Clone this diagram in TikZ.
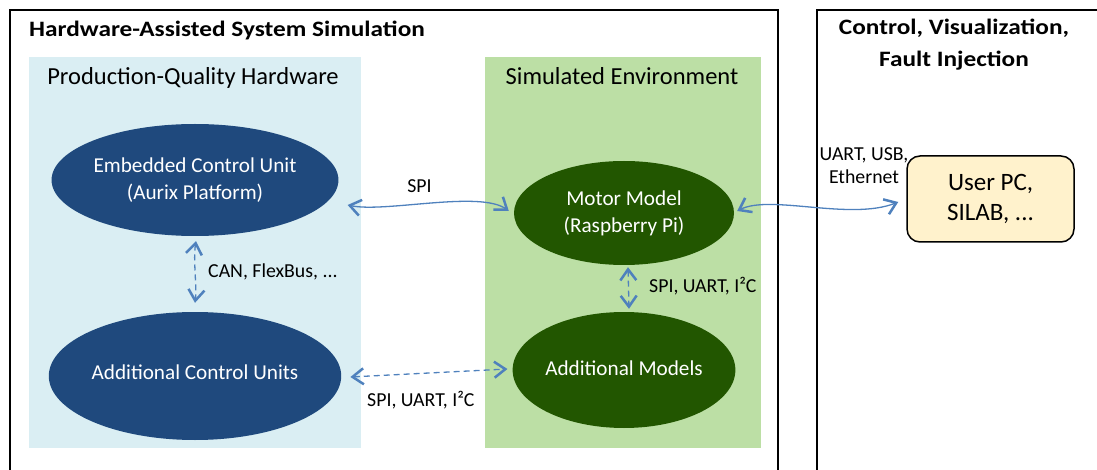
\documentclass[tikz,border=0pt]{standalone}
\usepackage{fontspec}
\setmainfont{Carlito}
\newfontfamily\titlefont[FakeStretch=1.15]{Carlito Bold}
\usetikzlibrary{shapes.geometric,arrows.meta,calc}
\definecolor{darkblue}{RGB}{31,73,125}
\definecolor{darkgreen}{RGB}{34,86,0}
\definecolor{lightblue}{RGB}{218,238,243}
\definecolor{lightgreen}{RGB}{188,223,165}
\definecolor{pcyellow}{RGB}{255,242,204}
\definecolor{arrowblue}{RGB}{79,129,189}
\tikzset{
  panel/.style={draw=black,line width=2pt},
  ellbase/.style={ellipse,draw=none,inner sep=0pt,text=white,align=center,font=\fontsize{21.2}{27}\selectfont},
  blueell/.style={ellbase,fill=darkblue},
  greenell/.style={ellbase,fill=darkgreen},
  conn/.style={draw=arrowblue,line width=1.3pt,{Straight Barb[length=11pt,width=16pt,line width=2.5pt]}-{Straight Barb[length=11pt,width=16pt,line width=2.5pt]}},
  dconn/.style={conn,dash pattern=on 6pt off 4pt},
  lbl/.style={font=\fontsize{19.8}{23}\selectfont,inner sep=0pt,align=center},
  areatitle/.style={font=\fontsize{24.5}{28}\selectfont,inner sep=0pt},
  paneltitle/.style={font=\titlefont\fontsize{22}{32}\selectfont,inner sep=0pt,align=center}
}
\begin{document}
\begin{tikzpicture}[x=1pt,y=-1pt]
\useasboundingbox (0,0) rectangle (1097,470);
\clip (0,0) rectangle (1097,470);
% panels
\draw[panel] (10,10) rectangle (778,490);
\draw[panel] (817,10) rectangle (1110,490);
\node[paneltitle,anchor=base west] (t1) at (29,37) {Hardware-Assisted System Simulation};
\node[paneltitle] (t2) at (954,45) {Control, Visualization,\\Fault Injection};
% areas
\fill[lightblue] (29,57) rectangle (361,448);
\fill[lightgreen] (485,57) rectangle (761,448);
\node[areatitle,anchor=base] (a1) at (193,85) {Production-Quality Hardware};
\node[areatitle,anchor=base] (a2) at (622,85) {Simulated Environment};
% nodes
\node[blueell,minimum width=276pt,minimum height=112pt] (ecu) at (195,180) {Embedded Control Unit\\(Aurix Platform)};
\node[blueell,minimum width=276pt,minimum height=128pt] (acu) at (195,376) {\raisebox{7pt}{Additional Control Units}};
\node[greenell,minimum width=220pt,minimum height=104pt] (motor) at (624,213) {Motor Model\\(Raspberry Pi)};
\node[greenell,minimum width=220pt,minimum height=116pt] (addm) at (624,370) {\raisebox{4pt}{Additional Models}};
\node[draw=black,line width=1.5pt,fill=pcyellow,rounded corners=13pt,minimum width=167pt,minimum height=86pt,align=center,font=\fontsize{25}{30}\selectfont] (pc) at (990.5,199) {User PC,\\SILAB, ...};
% connectors
\draw[conn] ($(ecu.east)+(9,25)$) .. controls (385,213) and (480,190) .. ($(motor.west)+(-5,-2)$);
\draw[conn] ($(motor.east)+(3,-2)$) .. controls (770,194) and (850,221) .. ($(pc.west)+(-8,3)$);
\draw[dconn] ($(ecu.south)+(1,5)$) .. controls (193,260) and (197,285) .. ($(acu.north)+(0,-9)$);
\draw[dconn] ($(motor.south)+(4,2)$) -- ($(addm.north)+(5,-3)$);
\draw[dconn] ($(acu.east)+(9,1)$) -- ($(addm.west)+(-5,-1)$);
% labels
\node[lbl] (l1) at (419.5,186) {SPI};
\node[lbl,anchor=west] (l2) at (208,272) {CAN, FlexBus, ...};
\node[lbl,anchor=west] (l3) at (649,286) {SPI, UART, I²C};
\node[lbl,anchor=west] (l4) at (367,400) {SPI, UART, I²C};
\node[lbl] (l5) at (864,166) {UART, USB,\\Ethernet};
\end{tikzpicture}
\end{document}
